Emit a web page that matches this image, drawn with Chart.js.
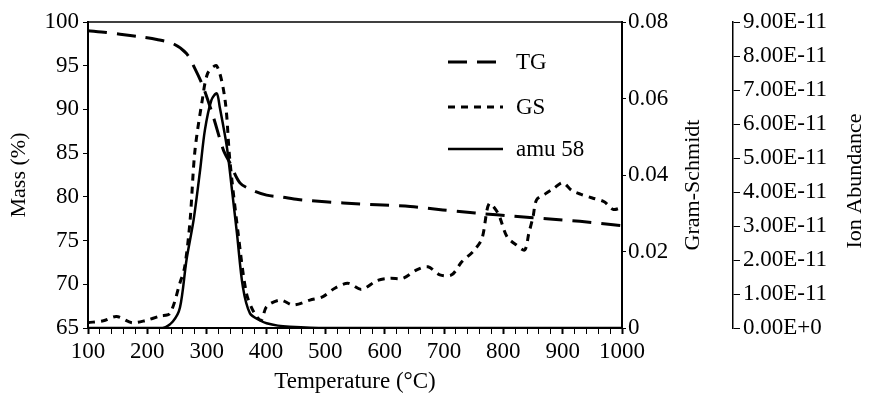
<!DOCTYPE html>
<html>
<head>
<meta charset="utf-8">
<script src="https://cdn.jsdelivr.net/npm/chart.js@4"></script>
<style>
  html, body { margin: 0; padding: 0; background: #fff; }
</style>
</head>
<body>
<canvas id="tgChart" width="872" height="398"></canvas>
<script>
const serif = '"Liberation Serif", "Times New Roman", serif'

// TG mass loss (%)
const tgTemp = [100, 131, 154, 188, 216, 244, 266, 280, 294, 311, 328, 339, 356, 376, 401, 424, 454, 469, 530, 587, 643, 698, 744, 761, 816, 873, 929, 985, 1000]
const tgMass = [99.0, 98.8, 98.6, 98.3, 98.0, 97.5, 96.4, 94.7, 92.6, 89.2, 85.4, 83.9, 81.6, 80.8, 80.2, 80.0, 79.7, 79.6, 79.3, 79.1, 78.9, 78.5, 78.2, 78.1, 77.8, 77.5, 77.2, 76.8, 76.7]

// Gram-Schmidt
const gsTemp = [100, 126, 148, 174, 196, 221, 238, 255, 263, 272, 280, 292, 302, 317, 331, 339, 353, 367, 380, 392, 401, 424, 446, 474, 496, 516, 538, 561, 587, 609, 631, 654, 673, 693, 713, 730, 749, 764, 776, 791, 806, 822, 836, 843, 850, 856, 870, 885, 900, 915, 930, 950, 970, 985, 1000]
const gsValue = [0.0014, 0.0019, 0.0030, 0.0014, 0.0019, 0.0031, 0.0038, 0.0118, 0.0160, 0.0280, 0.0460, 0.0590, 0.0667, 0.0685, 0.0596, 0.0440, 0.0248, 0.0091, 0.0040, 0.0020, 0.0056, 0.0073, 0.0060, 0.0073, 0.0082, 0.0104, 0.0117, 0.0101, 0.0124, 0.0130, 0.0130, 0.0152, 0.0160, 0.0139, 0.0139, 0.0173, 0.0200, 0.0234, 0.0325, 0.0300, 0.0239, 0.0217, 0.0204, 0.0248, 0.0290, 0.0335, 0.0350, 0.0365, 0.0380, 0.0360, 0.0350, 0.0340, 0.0330, 0.0310, 0.0315]

// amu 58 ion abundance
const amuTemp = [100, 150, 200, 226, 243, 255, 266, 278, 289, 297, 308, 317, 322, 334, 342, 351, 361, 373, 390, 401, 420, 440, 500, 600, 700, 800, 900, 1000]
const amuValue = [0, 0, 0, 0, 0.19e-11, 0.6e-11, 2.0e-11, 3.18e-11, 4.65e-11, 5.82e-11, 6.7e-11, 6.9e-11, 6.5e-11, 5.33e-11, 4.16e-11, 2.79e-11, 1.21e-11, 0.43e-11, 0.22e-11, 0.14e-11, 0.07e-11, 0.04e-11, 0, 0, 0, 0, 0, 0]

const toPoints = (xs, ys) => xs.map((x, i) => ({ x: x, y: ys[i] }))

// top border of the plot frame
const frameTop = {
    id: "frameTop",
    afterDraw(chart) {
        const { ctx, chartArea } = chart
        ctx.save()
        ctx.strokeStyle = "#000"
        ctx.lineWidth = 1.5
        ctx.beginPath()
        ctx.moveTo(chartArea.left, chartArea.top)
        ctx.lineTo(chartArea.right, chartArea.top)
        ctx.stroke()
        ctx.restore()
    }
}

// right side titles read bottom-to-top like the left one
const sideTitles = {
    id: "sideTitles",
    afterDraw(chart) {
        const { ctx, scales } = chart
        const items = [
            [scales.y1.left + 71, 185, "Gram-Schmidt"],
            [scales.y2.left + 122, 181, "Ion Abundance"]
        ]
        ctx.save()
        ctx.fillStyle = "#000"
        ctx.font = "22px " + serif
        ctx.textAlign = "center"
        ctx.textBaseline = "middle"
        items.forEach(([x, y, text]) => {
            ctx.save()
            ctx.translate(x, y)
            ctx.rotate(-Math.PI / 2)
            ctx.fillText(text, 0, 0)
            ctx.restore()
        })
        ctx.restore()
    }
}

// legend inside the plot
const insideLegend = {
    id: "insideLegend",
    afterDraw(chart) {
        const { ctx } = chart
        const rows = [62, 107, 149]
        ctx.save()
        ctx.font = "23px " + serif
        ctx.fillStyle = "#000"
        ctx.textBaseline = "middle"
        chart.data.datasets.forEach((ds, i) => {
            const y = rows[i]
            ctx.strokeStyle = "#000"
            ctx.lineWidth = ds.borderWidth
            ctx.setLineDash(ds.borderDash || [])
            ctx.beginPath()
            ctx.moveTo(448, y)
            ctx.lineTo(503, y)
            ctx.stroke()
            ctx.setLineDash([])
            ctx.fillText(ds.label, 516, y + 1)
        })
        ctx.restore()
    }
}

const tickFont = { family: serif, size: 23 }

new Chart(document.getElementById("tgChart"), {
    type: "line",
    data: {
        datasets: [
            {
                label: "TG",
                data: toPoints(tgTemp, tgMass),
                yAxisID: "y",
                borderColor: "#000",
                borderWidth: 3,
                borderDash: [19, 10],
                tension: 0.3
            },
            {
                label: "GS",
                data: toPoints(gsTemp, gsValue),
                yAxisID: "y1",
                borderColor: "#000",
                borderWidth: 3,
                borderDash: [7, 6],
                tension: 0.3
            },
            {
                label: "amu 58",
                data: toPoints(amuTemp, amuValue),
                yAxisID: "y2",
                borderColor: "#000",
                borderWidth: 2.5,
                tension: 0.3
            }
        ]
    },
    options: {
        responsive: false,
        animation: false,
        layout: { padding: { top: 22, left: 0, right: 0, bottom: 0 } },
        elements: { point: { radius: 0 } },
        plugins: { legend: { display: false }, tooltip: { enabled: false } },
        scales: {
            x: {
                type: "linear",
                min: 100,
                max: 1000,
                ticks: {
                    stepSize: 20,
                    maxTicksLimit: 60,
                    autoSkip: false,
                    maxRotation: 0,
                    padding: 4,
                    color: "#000",
                    font: tickFont,
                    callback: v => Math.round(v) % 100 === 0 ? Math.round(v) : ""
                },
                grid: {
                    drawOnChartArea: false,
                    tickLength: 6,
                    tickColor: "#000",
                    tickWidth: ctx => ctx.tick && Math.round(ctx.tick.value) % 100 === 0 ? 2 : 1
                },
                border: { color: "#000", width: 2 },
                title: { display: true, text: "Temperature (°C)", color: "#000", font: tickFont, padding: { top: 0, bottom: 2 } },
                afterFit: s => { s.height = 70 }
            },
            y: {
                position: "left",
                min: 65,
                max: 100,
                ticks: { stepSize: 5, padding: 4, color: "#000", font: tickFont },
                grid: { drawOnChartArea: false, tickLength: 5, tickColor: "#000" },
                border: { color: "#000", width: 2 },
                title: { display: true, text: "Mass (%)", color: "#000", font: { family: serif, size: 22 }, padding: { top: 6 } },
                afterFit: s => { s.width = 88 }
            },
            y1: {
                position: "right",
                min: 0,
                max: 0.08,
                ticks: {
                    stepSize: 0.02,
                    padding: 2,
                    color: "#000",
                    font: tickFont,
                    callback: v => v === 0 ? "0" : v.toFixed(2)
                },
                grid: { drawOnChartArea: false, tickLength: 4, tickColor: "#000" },
                border: { color: "#000", width: 2 },
                afterFit: s => { s.width = 111 }
            },
            y2: {
                position: "right",
                min: 0,
                max: 9e-11,
                ticks: {
                    stepSize: 1e-11,
                    padding: 3,
                    color: "#000",
                    font: tickFont,
                    callback: v => {
                        const n = Math.round(v / 1e-11)
                        return n === 0 ? "0.00E+0" : n.toFixed(2) + "E-11"
                    }
                },
                grid: { drawOnChartArea: false, tickLength: 7, tickColor: "#000" },
                border: { color: "#000", width: 1.5 },
                afterFit: s => { s.width = 139 }
            }
        }
    },
    plugins: [frameTop, sideTitles, insideLegend]
})
</script>
</body>
</html>
